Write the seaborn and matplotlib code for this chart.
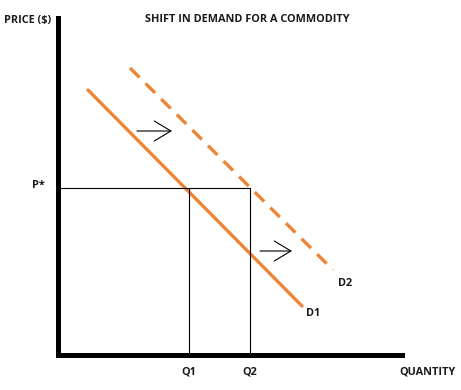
import matplotlib
matplotlib.use("Agg")
import matplotlib.pyplot as plt
import pandas as pd
import seaborn as sns

sns.set_theme(style="white")
plt.rcParams["font.family"] = ["Open Sans", "DejaVu Sans"]

# demand curves (quantity, price) endpoints
d1_q = [30, 244]
d1_p = [265, 49]
d2_q = [72, 275]
d2_p = [287, 85]
p_star = 167
q1, q2 = 131, 192
arrows = [((79, 224), (114, 224)), ((202, 104), (234, 104))]

orange = "#EE8535"

df = pd.concat([
    pd.DataFrame({"q": d1_q, "p": d1_p, "curve": "D1"}),
    pd.DataFrame({"q": d2_q, "p": d2_p, "curve": "D2"}),
])

fig = plt.figure(figsize=(4.61, 3.90), dpi=100)
ax = fig.add_axes([58 / 461, 35 / 390, 344 / 461, 337 / 390])

sns.lineplot(data=df, x="q", y="p", style="curve", dashes={"D1": "", "D2": (4, 2.6)},
             color=orange, lw=2.4, legend=False, ax=ax)

# reference lines
ax.plot([0, q2], [p_star, p_star], color="black", lw=0.8)
ax.plot([q1, q1], [0, p_star], color="black", lw=0.8)
ax.plot([q2, q2], [0, p_star], color="black", lw=0.8)

for start, end in arrows:
    ax.annotate("", xy=end, xytext=start,
                arrowprops=dict(arrowstyle="->,head_length=1.0,head_width=0.6",
                                color="black", lw=0.8, shrinkA=0, shrinkB=0))

ax.set_xlim(0, 344)
ax.set_ylim(0, 337)
ax.set_xticks([])
ax.set_yticks([])
ax.set_xlabel("")
ax.set_ylabel("")
for side in ["top", "right"]:
    ax.spines[side].set_visible(False)
for side in ["left", "bottom"]:
    ax.spines[side].set_linewidth(3.6)
    ax.spines[side].set_color("black")

kw = dict(fontsize=7.8, fontweight="bold", color="#1a1a1a", clip_on=False)
ax.text(189, 336, "SHIFT IN DEMAND FOR A COMMODITY", ha="center", va="center", **kw)
ax.text(-30, 335, "PRICE ($)", ha="center", va="center", **kw)
ax.text(-13, p_star + 2, "P*", ha="right", va="center", **kw)
ax.text(q1, -17, "Q1", ha="center", va="center", **kw)
ax.text(q2, -17, "Q2", ha="center", va="center", **kw)
ax.text(370, -17, "QUANTITY", ha="center", va="center", **kw)
ax.text(255, 42, "D1", ha="center", va="center", **kw)
ax.text(287, 72, "D2", ha="center", va="center", **kw)

fig.savefig("out.png", dpi=100)
